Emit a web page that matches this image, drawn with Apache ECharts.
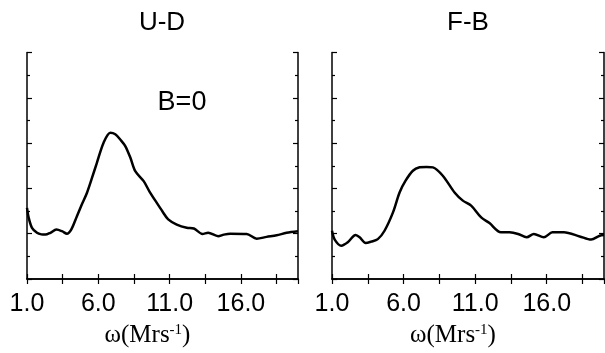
<!DOCTYPE html>
<html>
<head>
<meta charset="utf-8">
<script src="https://cdn.jsdelivr.net/npm/echarts@6/dist/echarts.min.js"></script>
<style>
  html, body { margin: 0; padding: 0; background: #fff; }
  #chart { width: 605px; height: 353px; }
</style>
</head>
<body>
<div id="chart"></div>
<script>
// panel titles and the in-panel note
const panelTitles = ["U-D", "F-B"];
const noteText = "B=0";

// U-D spectrum (x = omega, y in frame units 0..10)
const xUD = [1.0, 1.12, 1.35, 1.7, 2.0, 2.29, 2.64, 3.06, 3.45, 3.8, 4.1, 4.5, 4.85, 5.2, 5.55, 5.9, 6.37, 6.84, 7.19, 7.55,
  7.89, 8.25, 8.59, 9.18, 9.6, 10.1, 10.5, 10.9, 11.5, 12.2, 12.7, 13.3, 13.7, 14.4, 14.8, 15.25, 16.4, 17.1, 17.8, 18.5, 19.2, 20.0];
const yUD = [3.14, 2.7, 2.26, 2.04, 1.97, 1.96, 2.04, 2.18, 2.11, 2.0, 2.18, 2.77, 3.3, 3.8, 4.45, 5.13, 6.02, 6.46, 6.39, 6.15,
  5.87, 5.35, 4.76, 4.32, 3.85, 3.36, 2.98, 2.63, 2.4, 2.26, 2.23, 1.99, 2.04, 1.89, 1.96, 2.0, 1.99, 1.78, 1.86, 1.93, 2.04, 2.11];

// F-B spectrum, right panel
const xFB = [1.0, 1.19, 1.65, 2.1, 2.65, 2.93, 3.35, 3.74, 4.2, 4.67, 5.26, 5.72, 6.14, 6.65, 7.12, 7.6, 8.05, 8.74, 9.56, 10.14,
  10.72, 11.42, 12.0, 12.8, 13.4, 14.0, 14.6, 15.1, 15.8, 16.4, 17.2, 18.3, 19.1, 19.7, 20.0];
const yFB = [2.13, 1.74, 1.47, 1.62, 1.94, 1.84, 1.59, 1.65, 1.76, 2.13, 2.94, 3.82, 4.34, 4.78, 4.93, 4.95, 4.93, 4.56, 3.82, 3.46,
  3.24, 2.72, 2.47, 2.06, 2.06, 1.99, 1.84, 1.99, 1.84, 2.06, 2.06, 1.88, 1.74, 1.91, 1.94];

// axis ranges and ticks
const xMin = 1, xMax = 20, xStep = 2.5, xLabelEvery = 5;
const yMin = 0, yMax = 10, yStep = 2;
const xName = "{a|ω(Mrs}{s|-1}{a|)}";

const chart = echarts.init(document.getElementById("chart"), null, { renderer: "canvas" });

const grids = [
  { left: 27, right: 307, top: 52.5, bottom: 72.5 },
  { left: 332, right: 1, top: 52.5, bottom: 72.5 },
];

const sans = "Liberation Sans, Arial, sans-serif";
const serif = "Liberation Serif, Times New Roman, serif";
const line = { show: true, lineStyle: { color: "#000", width: 1.5 } };
const tick = { inside: true, length: 5, lineStyle: { color: "#000", width: 1.2 } };

const xAxes = [];
const yAxes = [];
grids.forEach((g, gi) => {
  xAxes.push({
    type: "value", gridIndex: gi, position: "bottom",
    min: xMin, max: xMax, interval: xStep,
    axisLine: line, axisTick: tick,
    splitLine: { show: false },
    axisLabel: {
      color: "#000", fontSize: 25, fontFamily: sans, margin: 13,
      showMaxLabel: false,
      formatter: (v) => ((v - xMin) % xLabelEvery === 0 ? v.toFixed(1) : ""),
    },
    name: xName, nameLocation: "middle", nameGap: 44,
    nameTextStyle: {
      padding: [0, 30, 0, 0],
      rich: {
        a: { fontFamily: serif, fontSize: 25, color: "#000" },
        s: { fontFamily: serif, fontSize: 15, color: "#000", verticalAlign: "top" },
      },
    },
  });
  xAxes.push({
    type: "value", gridIndex: gi, position: "top",
    min: xMin, max: xMax, interval: xStep,
    axisLine: line, axisTick: tick,
    splitLine: { show: false },
    axisLabel: { show: false },
  });
  ["left", "right"].forEach((pos) => {
    yAxes.push({
      type: "value", gridIndex: gi, position: pos,
      min: yMin, max: yMax, interval: yStep,
      axisLine: line, axisTick: tick,
      minorTick: { show: true, splitNumber: 2, length: 3, lineStyle: { color: "#000", width: 1.2 } },
      splitLine: { show: false },
      axisLabel: { show: false },
    });
  });
});

const pairs = (xs, ys) => xs.map((x, i) => [x, ys[i]]);
const label = (text, x, y, size) => ({
  type: "text", x, y, silent: true,
  style: { text, fill: "#000", font: size + "px " + sans, align: "center", verticalAlign: "middle" },
});

chart.setOption({
  animation: false,
  backgroundColor: "#fff",
  grid: grids,
  xAxis: xAxes,
  yAxis: yAxes,
  graphic: [
    label(panelTitles[0], 162, 23, 26),
    label(panelTitles[1], 468, 23, 26),
    label(noteText, 182, 103, 27),
  ],
  series: [
    { type: "line", xAxisIndex: 0, yAxisIndex: 0, data: pairs(xUD, yUD), smooth: 0.3, showSymbol: false,
      lineStyle: { color: "#000", width: 2.5 } },
    { type: "line", xAxisIndex: 2, yAxisIndex: 2, data: pairs(xFB, yFB), smooth: 0.3, showSymbol: false,
      lineStyle: { color: "#000", width: 2.5 } },
  ],
});
</script>
</body>
</html>
